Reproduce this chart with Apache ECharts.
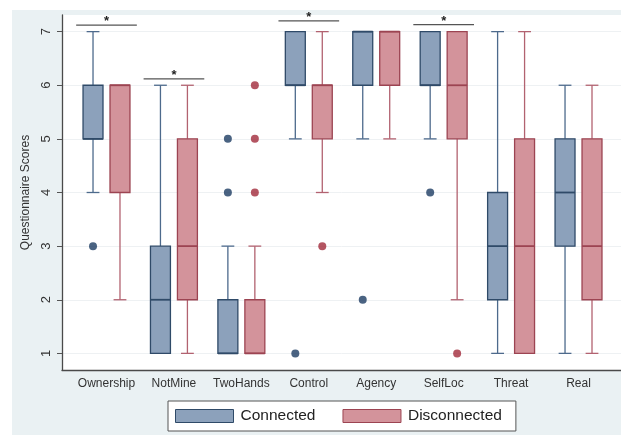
<!DOCTYPE html>
<html>
<head>
<meta charset="utf-8">
<script src="https://cdn.jsdelivr.net/npm/echarts@6/dist/echarts.min.js"></script>
<style>
  html, body { margin: 0; padding: 0; background: #ffffff; }
  #chart { position: absolute; left: 12px; top: 10px; width: 609px; height: 425px; }
</style>
</head>
<body>
<div id="chart"></div>
<script>
// Questionnaire items along the x axis
const categories = ['Ownership', 'NotMine', 'TwoHands', 'Control', 'Agency', 'SelfLoc', 'Threat', 'Real'];
const yTicks = [1, 2, 3, 4, 5, 6, 7];

// Box summaries per item: [lower whisker, Q1, median, Q3, upper whisker]
const connectedBoxes = [
  [4, 5, 5, 6, 7],
  [1, 1, 2, 3, 6],
  [1, 1, 1, 2, 3],
  [5, 6, 6, 7, 7],
  [5, 6, 7, 7, 7],
  [5, 6, 6, 7, 7],
  [1, 2, 3, 4, 7],
  [1, 3, 4, 5, 6]
];
const disconnectedBoxes = [
  [2, 4, 6, 6, 6],
  [1, 2, 3, 5, 6],
  [1, 1, 1, 2, 3],
  [4, 5, 6, 6, 7],
  [5, 6, 7, 7, 7],
  [2, 5, 6, 7, 7],
  [1, 1, 3, 5, 7],
  [1, 2, 3, 5, 6]
];

// Outside values: [item index, score]
const connectedOutliers = [[0, 3], [2, 4], [2, 5], [3, 1], [4, 2], [5, 4]];
const disconnectedOutliers = [[2, 4], [2, 5], [2, 6], [3, 3], [5, 1]];

// Significant differences: [item index, bracket height]
const significance = [[0, 7.12], [1, 6.12], [3, 7.2], [5, 7.13]];

const BOX_W = 0.296;
const CAP_W = 0.19;
const GROUP_OFFSET = 0.2;
const BRACKET_HALF = 0.45;

const blue = { fill: '#8ca1bb', stroke: '#2f4a68', whisker: '#4d6a8c', dot: '#1d3c63' };
const red = { fill: '#d3939b', stroke: '#9c4452', whisker: '#b26270', dot: '#a12a3b' };

function boxRenderer(offset, pal) {
  return function (params, api) {
    const x = api.value(0) + offset;
    const low = api.value(1), q1 = api.value(2), med = api.value(3), q3 = api.value(4), high = api.value(5);
    const bw = api.size([BOX_W, 0])[0];
    const cw = api.size([CAP_W, 0])[0];
    const pLow = api.coord([x, low]);
    const pQ1 = api.coord([x, q1]);
    const pMed = api.coord([x, med]);
    const pQ3 = api.coord([x, q3]);
    const pHigh = api.coord([x, high]);
    const cx = pQ1[0];
    const lineStyle = { stroke: pal.whisker, lineWidth: 1.3, fill: null };
    const children = [];
    if (high > q3) {
      children.push({ type: 'line', shape: { x1: cx, y1: pQ3[1], x2: cx, y2: pHigh[1] }, style: lineStyle });
      children.push({ type: 'line', shape: { x1: cx - cw / 2, y1: pHigh[1], x2: cx + cw / 2, y2: pHigh[1] }, style: lineStyle });
    }
    if (low < q1) {
      children.push({ type: 'line', shape: { x1: cx, y1: pQ1[1], x2: cx, y2: pLow[1] }, style: lineStyle });
      children.push({ type: 'line', shape: { x1: cx - cw / 2, y1: pLow[1], x2: cx + cw / 2, y2: pLow[1] }, style: lineStyle });
    }
    children.push({
      type: 'rect',
      shape: { x: cx - bw / 2, y: pQ3[1], width: bw, height: pQ1[1] - pQ3[1] },
      style: { fill: pal.fill, stroke: pal.stroke, lineWidth: 1.3 }
    });
    children.push({
      type: 'line',
      shape: { x1: cx - bw / 2, y1: pMed[1], x2: cx + bw / 2, y2: pMed[1] },
      style: { stroke: pal.stroke, lineWidth: 1.8 }
    });
    return { type: 'group', children: children };
  };
}

function bracketRenderer(params, api) {
  const c = api.value(0);
  const h = api.value(1);
  const a = api.coord([c - BRACKET_HALF, h]);
  const b = api.coord([c + BRACKET_HALF, h]);
  return {
    type: 'group',
    children: [
      { type: 'line', shape: { x1: a[0], y1: a[1], x2: b[0], y2: b[1] }, style: { stroke: '#555', lineWidth: 1.3 } },
      { type: 'text', style: { text: '*', x: (a[0] + b[0]) / 2, y: a[1] + 3, align: 'center', verticalAlign: 'bottom', fill: '#222', font: 'bold 13px "Liberation Sans", Arial, sans-serif' } }
    ]
  };
}

const boxData = (boxes) => boxes.map((b, i) => [i].concat(b));
const dotData = (pts, offset) => pts.map(p => [p[0] + offset, p[1]]);

const chart = echarts.init(document.getElementById('chart'));
chart.setOption({
  backgroundColor: '#eaf1f3',
  animation: false,
  textStyle: { fontFamily: '"Liberation Sans", Arial, sans-serif' },
  grid: {
    left: 50, right: 0, top: 5, bottom: 65,
    show: true, backgroundColor: '#ffffff', borderWidth: 0
  },
  legend: {
    left: 156, top: 391,
    backgroundColor: '#ffffff', borderColor: '#555', borderWidth: 1,
    padding: [7, 14, 7, 7],
    itemWidth: 58, itemHeight: 13, itemGap: 27,
    textStyle: { fontSize: 15.5, color: '#222', padding: [0, 0, 0, 2] },
    data: [
      { name: 'Connected', icon: 'rect', itemStyle: { color: blue.fill, borderColor: blue.stroke, borderWidth: 1 } },
      { name: 'Disconnected', icon: 'rect', itemStyle: { color: red.fill, borderColor: red.stroke, borderWidth: 1 } }
    ]
  },
  xAxis: {
    type: 'value',
    min: -0.66, max: 7.63,
    axisLine: { show: true, onZero: false, lineStyle: { color: '#4a4a4a', width: 1.3 } },
    axisTick: { show: false },
    splitLine: { show: false },
    axisLabel: {
      customValues: categories.map((c, i) => i),
      formatter: (v) => categories[Math.round(v)],
      fontSize: 12, color: '#333', margin: 8
    }
  },
  yAxis: {
    type: 'value',
    min: 0.69, max: 7.31,
    name: 'Questionnaire Scores',
    nameLocation: 'middle',
    nameRotate: 90,
    nameGap: 30,
    nameTextStyle: { fontSize: 12, color: '#333' },
    axisLine: { show: true, onZero: false, lineStyle: { color: '#4a4a4a', width: 1.3 } },
    axisTick: { show: true, length: 5, customValues: yTicks, lineStyle: { color: '#555' } },
    axisLabel: { customValues: yTicks, rotate: 90, fontSize: 13, color: '#333', margin: 9 },
    splitLine: { show: true, lineStyle: { color: '#eef1f3', width: 1 } }
  },
  series: [
    {
      name: 'Connected', type: 'custom', renderItem: boxRenderer(-GROUP_OFFSET, blue),
      itemStyle: { color: blue.fill, borderColor: blue.stroke },
      encode: { x: 0, y: [1, 2, 3, 4, 5] }, data: boxData(connectedBoxes), z: 3
    },
    {
      name: 'Disconnected', type: 'custom', renderItem: boxRenderer(GROUP_OFFSET, red),
      itemStyle: { color: red.fill, borderColor: red.stroke },
      encode: { x: 0, y: [1, 2, 3, 4, 5] }, data: boxData(disconnectedBoxes), z: 3
    },
    {
      name: 'Connected outliers', type: 'scatter', symbol: 'circle', symbolSize: 8,
      itemStyle: { color: blue.dot }, data: dotData(connectedOutliers, -GROUP_OFFSET), z: 4
    },
    {
      name: 'Disconnected outliers', type: 'scatter', symbol: 'circle', symbolSize: 8,
      itemStyle: { color: red.dot }, data: dotData(disconnectedOutliers, GROUP_OFFSET), z: 4
    },
    {
      name: 'Significance', type: 'custom', renderItem: bracketRenderer, clip: false,
      encode: { x: 0, y: 1 }, data: significance, z: 5
    }
  ]
});
</script>
</body>
</html>
